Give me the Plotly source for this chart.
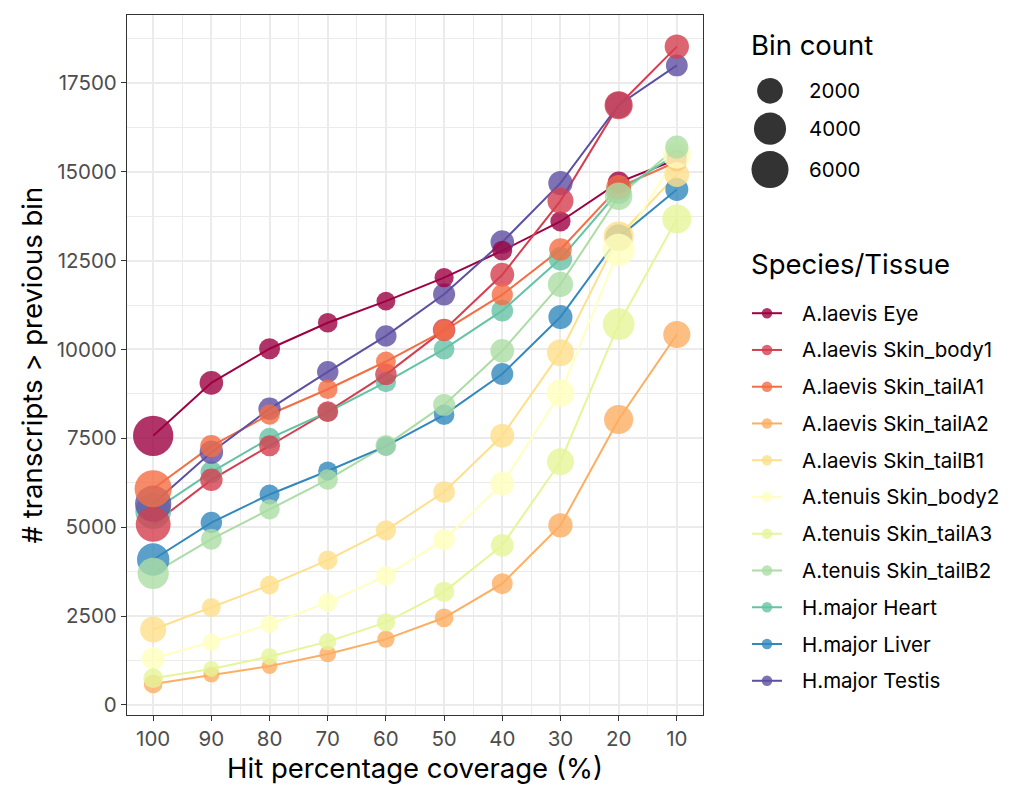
import numpy as np
import plotly.graph_objects as go

# Hit percentage coverage bins (%)
coverage = [100, 90, 80, 70, 60, 50, 40, 30, 20, 10]

# Number of transcripts reaching each coverage bin, per species/tissue
eye = [7570, 9060, 10020, 10750, 11360, 12020, 12780, 13600, 14700, 15350]
skin_body1 = [5080, 6330, 7290, 8250, 9300, 10550, 12100, 14180, 16870, 18520]
skin_tailA1 = [6080, 7280, 8170, 8880, 9660, 10530, 11540, 12810, 14560, 15280]
skin_tailA2 = [590, 850, 1090, 1430, 1850, 2450, 3410, 5050, 8030, 10420]
skin_tailB1 = [2120, 2740, 3370, 4070, 4910, 5990, 7570, 9910, 13180, 14920]
skin_body2 = [1310, 1760, 2270, 2880, 3630, 4650, 6220, 8770, 12800, 15480]
skin_tailA3 = [750, 1010, 1360, 1780, 2320, 3180, 4490, 6840, 10710, 13670]
skin_tailB2 = [3700, 4660, 5500, 6340, 7300, 8440, 9960, 11830, 14310, 15690]
heart = [5450, 6550, 7500, 8240, 9080, 10010, 11090, 12550, 14450, 15500]
liver = [4090, 5130, 5920, 6580, 7280, 8160, 9310, 10910, 13150, 14500]
testis = [5660, 7110, 8330, 9370, 10380, 11550, 13020, 14680, 16880, 17990]

labels = [
    "A.laevis Eye", "A.laevis Skin_body1", "A.laevis Skin_tailA1",
    "A.laevis Skin_tailA2", "A.laevis Skin_tailB1", "A.tenuis Skin_body2",
    "A.tenuis Skin_tailA3", "A.tenuis Skin_tailB2", "H.major Heart",
    "H.major Liver", "H.major Testis",
]
series = [eye, skin_body1, skin_tailA1, skin_tailA2, skin_tailB1, skin_body2,
          skin_tailA3, skin_tailB2, heart, liver, testis]

# Spectral palette
colors = ["#9E0142", "#D53E4F", "#F46D43", "#FDAE61", "#FEE08B", "#FFFFBF",
          "#E6F598", "#ABDDA4", "#66C2A5", "#3288BD", "#5E4FA2"]

# stacking order of the points (rows of the source table: H.major first)
draw_order = [8, 9, 10, 0, 1, 2, 3, 4, 5, 6, 7]

size_breaks = [2000, 4000, 6000]
y_ticks = list(range(0, 17501, 2500))

W, H = 1019, 787
FONT = "Inter, Liberation Sans, Arial, sans-serif"
TITLE_SIZE = 27.5
TEXT_SIZE = 20.5


def point_diameter(count):
    # area-style size scale: diameter grows with the square root of the bin count
    return 10.3 + 0.345 * np.sqrt(np.asarray(count, dtype=float))


def bin_counts(values):
    # transcripts added in each bin relative to the previous one
    v = np.asarray(values, dtype=float)
    return np.concatenate([[v[0]], np.diff(v)])


fig = go.Figure()

# lines below every point
for name, vals, col in zip(labels, series, colors):
    fig.add_trace(go.Scatter(
        x=coverage, y=vals, mode="lines", name=name,
        line=dict(color=col, width=2), showlegend=False, hoverinfo="skip",
    ))

for i in draw_order:
    fig.add_trace(go.Scatter(
        x=coverage, y=series[i], mode="markers", name=labels[i],
        marker=dict(color=colors[i], opacity=0.8,
                    size=point_diameter(bin_counts(series[i])),
                    sizemode="diameter", line=dict(width=0)),
        showlegend=False,
    ))

# ---- legends, drawn on a pixel-space overlay axis ----
bin_rows_y = [91, 129, 170]
fig.add_trace(go.Scatter(
    x=[770] * len(size_breaks), y=bin_rows_y, xaxis="x2", yaxis="y2",
    mode="markers", showlegend=False, hoverinfo="skip",
    marker=dict(color="#333333", opacity=1, size=point_diameter(size_breaks),
                sizemode="diameter", line=dict(width=0)),
))

species_y0, species_dy = 314, 36.85
for i, (name, col) in enumerate(zip(labels, colors)):
    yy = species_y0 + i * species_dy
    fig.add_trace(go.Scatter(
        x=[752, 782], y=[yy, yy], xaxis="x2", yaxis="y2", mode="lines",
        line=dict(color=col, width=2), showlegend=False, hoverinfo="skip",
    ))
    fig.add_trace(go.Scatter(
        x=[767], y=[yy], xaxis="x2", yaxis="y2", mode="markers",
        marker=dict(color=col, opacity=0.8, size=10.5, line=dict(width=0)),
        showlegend=False, hoverinfo="skip",
    ))

annotations = [
    dict(text="Bin count", x=749, y=45, xref="x2", yref="y2", showarrow=False,
         xanchor="left", yanchor="middle",
         font=dict(size=TITLE_SIZE, color="black", family=FONT)),
    dict(text="Species/Tissue", x=749, y=265, xref="x2", yref="y2", showarrow=False,
         xanchor="left", yanchor="middle",
         font=dict(size=TITLE_SIZE, color="black", family=FONT)),
]
for b, yy in zip(size_breaks, bin_rows_y):
    annotations.append(dict(text=str(b), x=807, y=yy, xref="x2", yref="y2", showarrow=False,
                            xanchor="left", yanchor="middle",
                            font=dict(size=TEXT_SIZE, color="black", family=FONT)))
for i, name in enumerate(labels):
    annotations.append(dict(text=name, x=800, y=species_y0 + i * species_dy,
                            xref="x2", yref="y2", showarrow=False,
                            xanchor="left", yanchor="middle",
                            font=dict(size=TEXT_SIZE, color="black", family=FONT)))

grid = "#EBEBEB"
fig.update_layout(
    width=W, height=H, margin=dict(l=0, r=0, t=0, b=0),
    paper_bgcolor="white", plot_bgcolor="rgba(0,0,0,0)",
    font=dict(family=FONT),
    annotations=annotations,
    xaxis=dict(
        domain=[127 / W, 703 / W], range=[104.5, 5.5],
        tickvals=coverage, ticktext=[str(c) for c in coverage],
        ticks="outside", ticklen=5, tickwidth=1.2, tickcolor="#333333",
        tickfont=dict(size=TEXT_SIZE, color="#4D4D4D"),
        showgrid=True, gridcolor=grid, gridwidth=1.7,
        minor=dict(dtick=5, tick0=5, showgrid=True, gridcolor=grid, gridwidth=0.9),
        showline=True, linecolor="#333333", linewidth=1.2, mirror=True,
        zeroline=False,
        title=dict(text="Hit percentage coverage (%)",
                   font=dict(size=TITLE_SIZE, color="black"), standoff=3),
        anchor="y",
    ),
    yaxis=dict(
        domain=[1 - 717 / H, 1 - 15 / H], range=[-290, 19410],
        tickvals=y_ticks, ticktext=[str(t) for t in y_ticks],
        ticks="outside", ticklen=5, tickwidth=1.2, tickcolor="#333333",
        tickfont=dict(size=TEXT_SIZE, color="#4D4D4D"),
        showgrid=True, gridcolor=grid, gridwidth=1.7,
        minor=dict(dtick=1250, tick0=0, showgrid=True, gridcolor=grid, gridwidth=0.9),
        showline=True, linecolor="#333333", linewidth=1.2, mirror=True,
        zeroline=False,
        title=dict(text="# transcripts > previous bin",
                   font=dict(size=TITLE_SIZE, color="black"), standoff=6),
        anchor="x",
    ),
    xaxis2=dict(domain=[0, 1], range=[0, W], visible=False, anchor="y2", fixedrange=True),
    yaxis2=dict(domain=[0, 1], range=[H, 0], visible=False, anchor="x2", fixedrange=True),
)

fig.write_html("out.html")
